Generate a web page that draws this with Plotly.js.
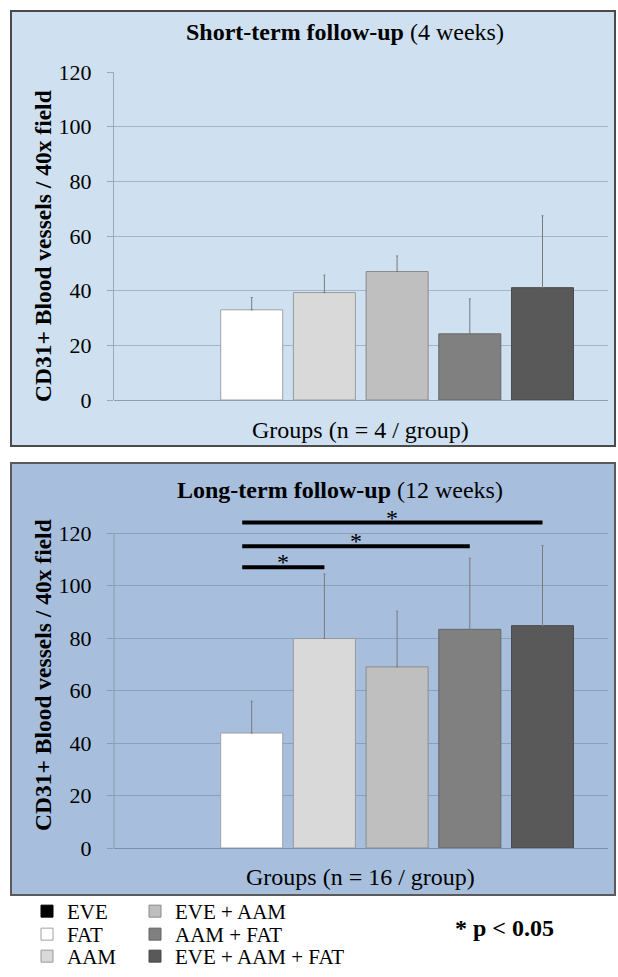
<!DOCTYPE html>
<html>
<head>
<meta charset="utf-8">
<script src="https://cdn.plot.ly/plotly-3.0.1.min.js"></script>
<style>
html,body{margin:0;padding:0;background:#fff;overflow:hidden;width:618px;height:977px;}
#chart{width:618px;height:977px;display:block;overflow:hidden;}
</style>
</head>
<body>
<div id="chart"></div>
<script>
// ---- data ----
const groups = ['EVE', 'FAT', 'AAM', 'EVE + AAM', 'AAM + FAT', 'EVE + AAM + FAT'];
const shortMean = [null, 33.0, 39.3, 47.0, 24.2, 41.1];
const shortErr  = [null, 4.5, 6.4, 5.7, 12.8, 26.3];
const longMean  = [null, 43.8, 79.8, 69.0, 83.3, 84.7];
const longErr   = [null, 12.1, 24.6, 21.2, 27.1, 30.5];
const yTicks = [0, 20, 40, 60, 80, 100, 120];
const sigFrom = 'FAT';
const sigTo = ['AAM', 'AAM + FAT', 'EVE + AAM + FAT'];
const sigLevel = [107, 115, 124];
const shortTitle = '<b>Short-term follow-up</b> (4 weeks)';
const longTitle = '<b>Long-term follow-up</b> (12 weeks)';
const shortXTitle = 'Groups (n = 4 / group)';
const longXTitle = 'Groups (n = 16 / group)';
const yTitle = '<b>CD31+ Blood vessels / 40x field</b>';
const pNote = '<b>* p &lt; 0.05</b>';

// ---- style ----
const fillColors = ['#000000', '#ffffff', '#d9d9d9', '#bfbfbf', '#808080', '#595959'];
const lineColors = ['#000000', '#a0a0a0', '#9a9a9a', '#8a8a8a', '#666666', '#4a4a4a'];
const SERIF = 'Liberation Serif, Times New Roman, serif';
const W = 618, H = 977;
const px = v => v / W;
const py = v => 1 - v / H;
const axisGray = 'rgba(120,130,145,0.6)';
// legend entry placement (text start x, box top y), two columns of three; boxes stay inside the page
const legendSlots = [[27, 891], [27, 914], [27, 936], [135, 891], [135, 914], [135, 936]];

const traces = [];
function legendId(i) { return i === 0 ? 'legend' : 'legend' + (i + 1); }
function addBars(means, errs, xa, ya, legendOn) {
  groups.forEach((g, i) => {
    traces.push({
      type: 'bar',
      name: g,
      x: [i],
      y: [means[i]],
      width: 0.853,
      xaxis: xa, yaxis: ya,
      marker: {color: fillColors[i], line: {color: lineColors[i], width: 1}},
      error_y: {type: 'data', symmetric: false, array: [errs[i]], arrayminus: [0],
                color: '#7a7a7a', thickness: 1, width: 1},
      showlegend: legendOn,
      legend: legendId(i),
      hoverinfo: 'skip'
    });
  });
}
addBars(shortMean, shortErr, 'x', 'y', true);
addBars(longMean, longErr, 'x2', 'y2', false);

const fromIdx = groups.indexOf(sigFrom);
const annotations = [];
sigTo.forEach((t, k) => {
  const toIdx = groups.indexOf(t);
  const x0 = fromIdx - 0.13;
  traces.push({
    type: 'scatter', mode: 'lines',
    x: [x0, toIdx], y: [sigLevel[k], sigLevel[k]],
    xaxis: 'x2', yaxis: 'y2', cliponaxis: false,
    line: {color: '#000', width: 4}, showlegend: false, hoverinfo: 'skip'
  });
  annotations.push({
    xref: 'x2', yref: 'y2', x: (x0 + toIdx) / 2, y: sigLevel[k],
    text: '*', showarrow: false, xanchor: 'center', yanchor: 'bottom', yshift: -10,
    font: {family: SERIF, size: 24, color: '#000'}
  });
});

function note(x, y, text, size, extra) {
  return Object.assign({xref: 'paper', yref: 'paper', x: px(x), y: py(y), text: text,
    showarrow: false, xanchor: 'center', yanchor: 'middle',
    font: {family: SERIF, size: size, color: '#000'}}, extra || {});
}
annotations.push(
  note(345, 32, shortTitle, 24),
  note(340, 490, longTitle, 24),
  note(360, 430, shortXTitle, 24),
  note(360, 877, longXTitle, 24),
  note(43, 246, yTitle, 23.5, {textangle: -90}),
  note(43, 675, yTitle, 23.5, {textangle: -90}),
  note(504, 928, pNote, 24)
);

const shapes = [
  {type: 'rect', xref: 'paper', yref: 'paper', x0: px(11), x1: px(615), y0: py(446), y1: py(11),
   fillcolor: '#cfe0f1', line: {color: '#4a4a4a', width: 2}, layer: 'below'},
  {type: 'rect', xref: 'paper', yref: 'paper', x0: px(11), x1: px(615), y0: py(895), y1: py(463),
   fillcolor: '#a7bfdd', line: {color: '#5a5a5a', width: 2}, layer: 'below'},
  // value axis line of the long-term panel, only up to the top tick
  {type: 'line', xref: 'x2 domain', yref: 'y2', x0: 0, x1: 0, y0: 0, y1: yTicks[yTicks.length - 1],
   line: {color: axisGray, width: 1}, layer: 'above'}
];

const xBase = {
  range: [-0.894, 5.901], domain: [px(114), px(608)],
  showticklabels: false, showgrid: false, zeroline: false, ticks: '',
  showline: false, fixedrange: true
};
const yBase = {
  range: [0, 120], tickvals: yTicks, ticktext: yTicks.map(String),
  showgrid: true, gridcolor: 'rgba(80,95,115,0.33)', gridwidth: 1,
  zeroline: true, zerolinecolor: 'rgba(80,95,115,0.5)', zerolinewidth: 1,
  showline: true, linecolor: axisGray, linewidth: 1,
  ticks: 'outside', ticklen: 6, tickcolor: axisGray,
  ticklabelstandoff: 11,
  tickfont: {family: SERIF, size: 22, color: '#000'}, fixedrange: true
};

// long-term panel: 120 at y=533 px, 0 at y=848 px; range extended to 130 so the top bar fits
const longTop = 848 - (848 - 533) * 130 / 120;

const layout = {
  width: W, height: H, autosize: false,
  margin: {l: 0, r: 0, t: 0, b: 0, pad: 0},
  paper_bgcolor: '#ffffff', plot_bgcolor: 'rgba(0,0,0,0)',
  barmode: 'overlay',
  xaxis: Object.assign({}, xBase, {anchor: 'y'}),
  yaxis: Object.assign({}, yBase, {domain: [py(400), py(72)], anchor: 'x'}),
  xaxis2: Object.assign({}, xBase, {anchor: 'y2'}),
  yaxis2: Object.assign({}, yBase, {domain: [py(848), py(longTop)], range: [0, 130],
                                    showline: false, anchor: 'x2'}),
  annotations: annotations,
  shapes: shapes
};
legendSlots.forEach((s, i) => {
  layout[legendId(i)] = {
    x: px(s[0]), xanchor: 'left', y: py(s[1]), yanchor: 'top', orientation: 'v',
    font: {family: SERIF, size: 21, color: '#000'}, bgcolor: 'rgba(0,0,0,0)',
    itemwidth: 30, tracegroupgap: 0, itemclick: false, itemdoubleclick: false
  };
});

Plotly.newPlot('chart', traces, layout, {staticPlot: true, displayModeBar: false});
</script>
</body>
</html>
